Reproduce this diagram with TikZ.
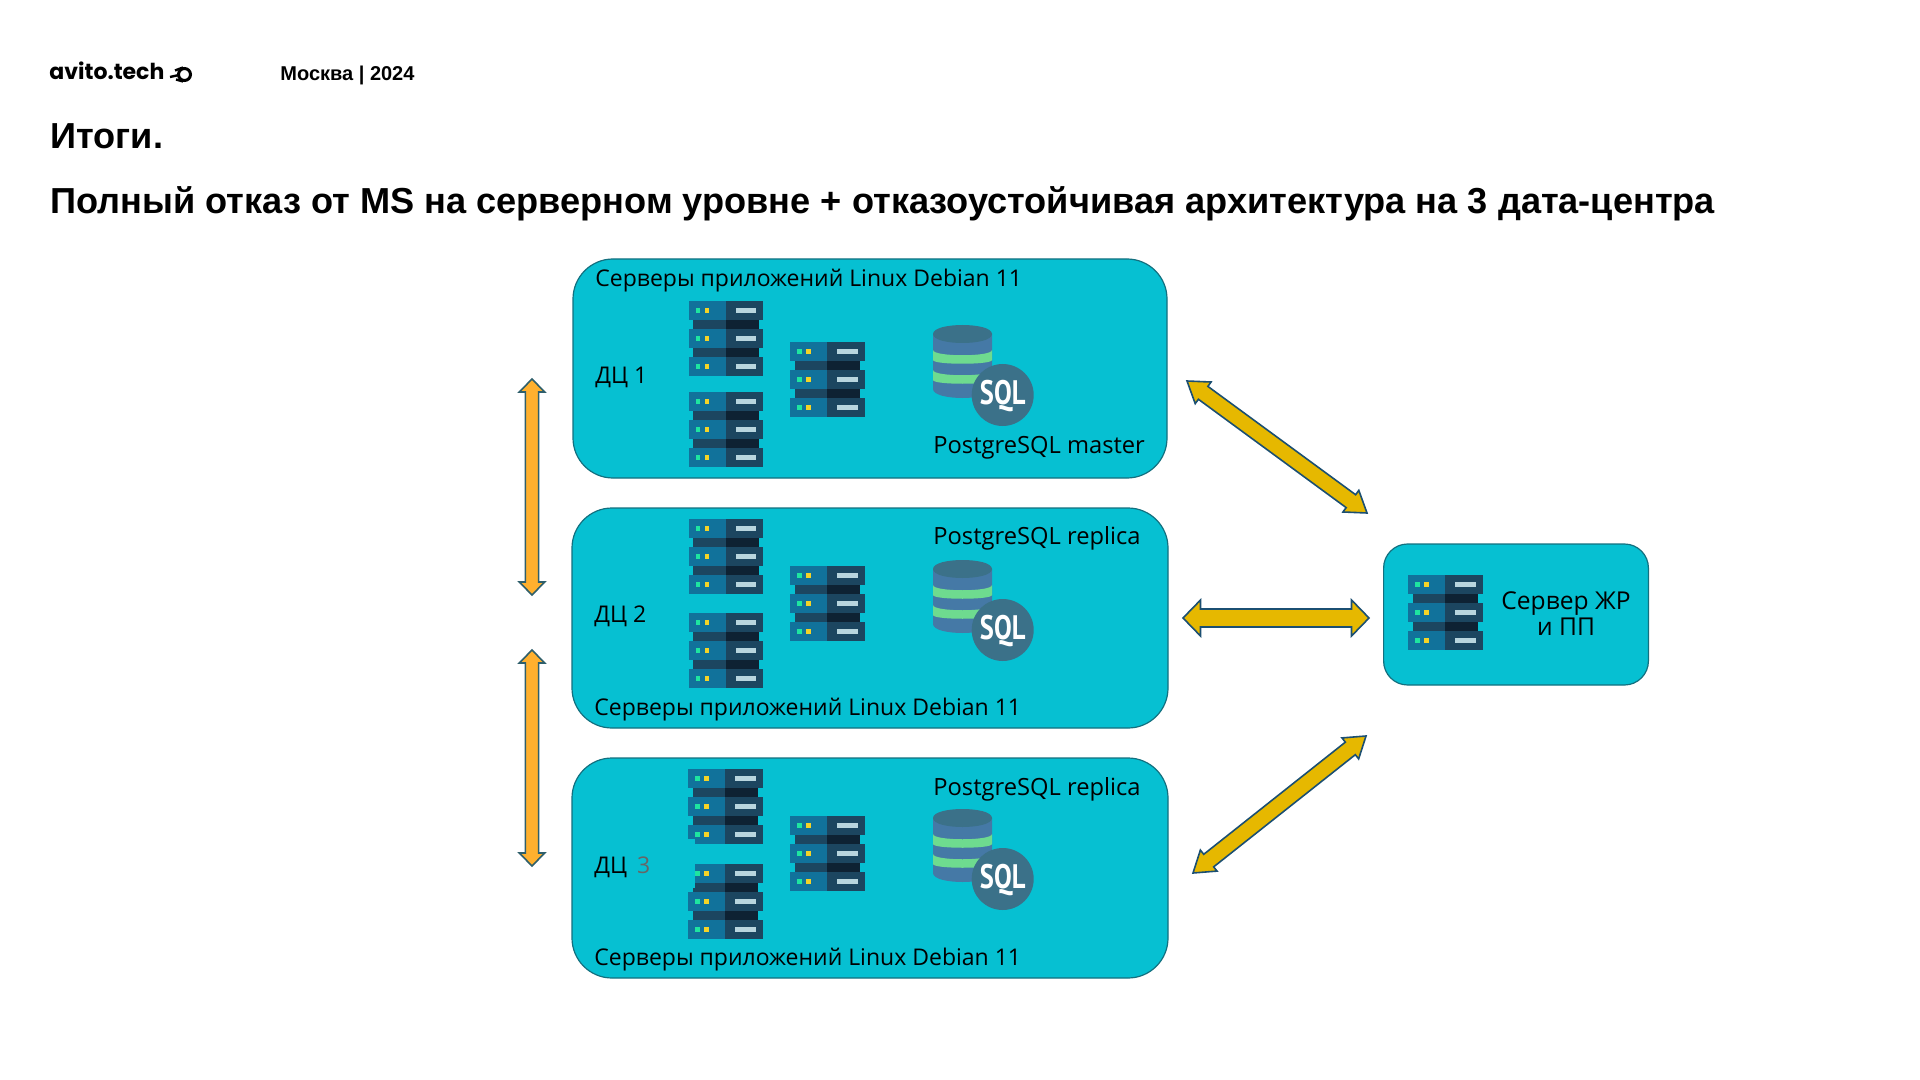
\documentclass[tikz,border=0pt]{standalone}
\usepackage{fontspec}
\usetikzlibrary{calc}
\setmainfont{Liberation Sans}
\newfontfamily\bodyfont{Open Sans}
\newfontfamily\logofont{Poppins}
\newfontfamily\sqlfont[FakeStretch=0.78]{PT Sans}
\definecolor{boxfill}{HTML}{06C0D2}
\definecolor{boxline}{HTML}{13707F}
\definecolor{goldfill}{HTML}{E6B800}
\definecolor{goldline}{HTML}{1B4F72}
\definecolor{orangefill}{HTML}{FFB02E}
\definecolor{orangeline}{HTML}{2F5F6B}
\definecolor{rackblue}{HTML}{11729B}
\definecolor{rackdark}{HTML}{1C4660}
\definecolor{rackblack}{HTML}{0E2233}
\definecolor{ledgreen}{HTML}{1EE5A0}
\definecolor{ledyellow}{HTML}{F5D327}
\definecolor{barlight}{HTML}{B8D5DE}
\definecolor{dbblue}{HTML}{4579A6}
\definecolor{dbtop}{HTML}{3B7189}
\definecolor{dbgreen}{HTML}{6EDB8F}
\tikzset{
  dcbox/.style={draw=boxline, fill=boxfill, line width=0.6pt, rounded corners=20pt,
    minimum width=298pt, minimum height=110pt, inner sep=0pt},
  srvbox/.style={dcbox, rounded corners=12pt, minimum width=132.4pt, minimum height=70.5pt},
  lbl/.style={anchor=base west, inner sep=0pt, font=\bodyfont\fontsize{11.5}{14}\selectfont},
  pglbl/.style={lbl, font=\bodyfont\fontsize{11.85}{14}\selectfont},
  ctrlbl/.style={lbl, anchor=base, font=\bodyfont\fontsize{12.3}{14}\selectfont},
  twoway/.style n args={3}{line join=miter, to path={
    -- ($(\tikztostart)!#1!(\tikztotarget)!#2!90:(\tikztotarget)$)
    -- ($(\tikztostart)!#1!(\tikztotarget)!#3!90:(\tikztotarget)$)
    -- ($(\tikztotarget)!#1!(\tikztostart)!#3!-90:(\tikztostart)$)
    -- ($(\tikztotarget)!#1!(\tikztostart)!#2!-90:(\tikztostart)$)
    -- (\tikztotarget)
    -- ($(\tikztotarget)!#1!(\tikztostart)!#2!90:(\tikztostart)$)
    -- ($(\tikztotarget)!#1!(\tikztostart)!#3!90:(\tikztostart)$)
    -- ($(\tikztostart)!#1!(\tikztotarget)!#3!-90:(\tikztotarget)$)
    -- ($(\tikztostart)!#1!(\tikztotarget)!#2!-90:(\tikztotarget)$)
    -- cycle}},
  goldarrow/.style={draw=goldline, fill=goldfill, line width=0.8pt, twoway={10pt}{6.7pt}{4pt}},
  goldwide/.style={draw=goldline, fill=goldfill, line width=0.8pt, twoway={8.75pt}{9pt}{4.5pt}},
  orangearrow/.style={draw=orangeline, fill=orangefill, line width=0.8pt, twoway={6.5pt}{6.35pt}{3.3pt}},
  pics/serverstack/.style={code={
    \foreach \i in {0,1}{
      \fill[rackdark] (4.7,18+28*\i) rectangle (37,29+28*\i);
      \fill[rackblack] (37,18+28*\i) rectangle (70,29+28*\i);
    }
    \foreach \i in {0,1,2}{
      \fill[rackblue] (0,28*\i) rectangle (37,18.7+28*\i);
      \fill[rackdark] (37,28*\i) rectangle (74.5,18.7+28*\i);
      \fill[ledgreen] (7,7+28*\i) rectangle (11.6,11.6+28*\i);
      \fill[ledyellow] (16,7+28*\i) rectangle (20.6,11.6+28*\i);
      \fill[barlight] (47.3,7+28*\i) rectangle (67.6,11.7+28*\i);
    }
  }},
  pics/sqlstore/.style={code={
    \fill[dbblue] (0,9) -- (0,64) .. controls (0,76) and (59,76) .. (59,64) -- (59,9) -- cycle;
    \fill[dbgreen] (0,25) .. controls (0,32) and (59,32) .. (59,25) -- (59,35) .. controls (59,40) and (0,40) .. (0,35) -- cycle;
    \fill[dbgreen] (0,45) .. controls (0,52) and (59,52) .. (59,45) -- (59,55) .. controls (59,60) and (0,60) .. (0,55) -- cycle;
    \fill[dbtop] (0,9) .. controls (0,-3) and (59,-3) .. (59,9) .. controls (59,21) and (0,21) .. (0,9) -- cycle;
    \node (-disc) [circle, fill=dbtop, minimum size=31pt, inner sep=0pt] at (69.7,70) {};
    \node (-text) [inner sep=0pt, text=white, font=\sqlfont\bfseries\fontsize{17}{18}\selectfont] at (69.7,71) {SQL};
  }}
}
\begin{document}
\begin{tikzpicture}[x=0.5pt,y=-0.5pt]
    \useasboundingbox (0,0) rectangle (1920,1080);
    % header
    \node (logo) [anchor=base west, inner sep=0pt, font=\logofont\bfseries\fontsize{11}{12}\selectfont] at (49,80) {avito.tech};
    \draw[line width=1.5pt] (184.5,74.5) circle (6);
    \draw[line width=1.2pt] (170,77) -- (179,75) (175,70.5) -- (183,67.5) (176,79.5) -- (183,81.5);
    \node (city) [anchor=base west, inner sep=0pt, font=\bfseries\fontsize{10}{12}\selectfont] at (280,80.5) {Москва | 2024};
    \node (head) [anchor=base west, inner sep=0pt, font=\bfseries\fontsize{18.08}{20}\selectfont] at (50,149) {Итоги.};
    \node (title) [anchor=base west, inner sep=0pt, font=\bfseries\fontsize{18.08}{20}\selectfont] at (50,213.5) {Полный отказ от MS на серверном уровне + отказоустойчивая архитектура на 3 дата-центра};
    % data centres
    \node (dc1) [dcbox, minimum width=297pt, minimum height=109.5pt] at (870,368.5) {};
    \node (dc2) [dcbox] at (870,618) {};
    \node (dc3) [dcbox] at (870,868) {};
    \node (srv) [srvbox] at (1516,614.5) {};
    % racks
    \pic at (688.7,301) {serverstack};
    \pic at (688.7,392) {serverstack};
    \pic at (790,342) {serverstack};
    \pic at (688.7,519) {serverstack};
    \pic at (688.7,613) {serverstack};
    \pic at (790,566) {serverstack};
    \pic at (688,769) {serverstack};
    \pic at (688,864) {serverstack};
    \pic at (790,816) {serverstack};
    \pic at (1408,575) {serverstack};
    \fill[boxfill] (687.5,838.7) rectangle (694.7,888);
    % databases
    \pic (db1) at (933,325) {sqlstore};
    \pic (db2) at (933,560) {sqlstore};
    \pic (db3) at (933,809) {sqlstore};
    % labels
    \node (apps1) [lbl] at (595,287) {Серверы приложений Linux Debian 11};
    \node (name1) [lbl] at (595,383) {ДЦ 1};
    \node (pg1) [pglbl] at (933,453) {PostgreSQL master};
    \node (pg2) [pglbl] at (933,544) {PostgreSQL replica};
    \node (name2) [lbl] at (594,622) {ДЦ 2};
    \node (apps2) [lbl] at (594,715) {Серверы приложений Linux Debian 11};
    \node (pg3) [pglbl] at (933,795) {PostgreSQL replica};
    \node (name3) [lbl] at (594,873) {ДЦ\hspace{5pt}\textcolor{black!60}{3}};
    \node (apps3) [lbl] at (594,965) {Серверы приложений Linux Debian 11};
    \node (srv1) [ctrlbl] at (1566,609) {Сервер ЖР};
    \node (srv2) [ctrlbl] at (1566,635) {и ПП};
    % arrows
    \coordinate (upA) at (532,379);
    \coordinate (upB) at (532,595);
    \coordinate (loA) at (532,650);
    \coordinate (loB) at (532,866);
    \coordinate (topA) at (1187,381);
    \coordinate (topB) at (1367,513);
    \coordinate (midA) at (1183,618);
    \coordinate (midB) at (1369,618);
    \coordinate (lowA) at (1193,873);
    \coordinate (lowB) at (1366,736);
    \draw[orangearrow] (upA) to (upB);
    \draw[orangearrow] (loA) to (loB);
    \draw[goldarrow] (topA) to (topB);
    \draw[goldwide] (midA) to (midB);
    \draw[goldarrow] (lowA) to (lowB);
\end{tikzpicture}
\end{document}
